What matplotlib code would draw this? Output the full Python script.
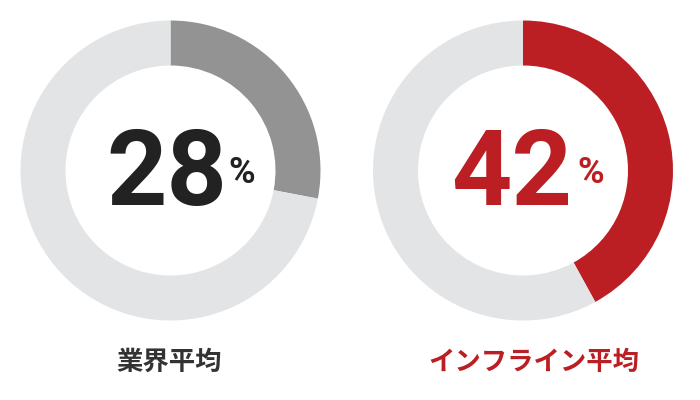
import matplotlib.pyplot as plt

etiquetas = ["業界平均", "インフライン平均"]
percentuais = [28, 42]
cores = ["#939393", "#bb1e23"]
cor_fundo = "#e3e4e6"
cores_texto = ["#222222", "#bb1e23"]
cores_rotulo = ["#333333", "#bb1e23"]

centros = [(170.5, 229.5), (523, 229.5)]
pos_numero = [167, 512]
pos_pct = [228, 577]
pos_rotulo = [169, 534]

fig = plt.figure(figsize=(7, 4), dpi=100)
ax = fig.add_axes([0, 0, 1, 1])

for i in range(len(percentuais)):
    p = percentuais[i]
    ax.pie([p, 100 - p], colors=[cores[i], cor_fundo], center=centros[i],
           radius=150, startangle=90, counterclock=False,
           wedgeprops=dict(width=45, linewidth=0))
    ax.text(pos_numero[i], 195, str(p), ha='center', va='baseline',
            fontsize=76, fontweight='bold', family='Roboto', color=cores_texto[i])
    ax.text(pos_pct[i], 217, "%", ha='left', va='baseline',
            fontsize=26, fontweight='bold', family='Roboto', color=cores_texto[i])
    ax.text(pos_rotulo[i], 38, etiquetas[i], ha='center', va='center',
            fontsize=19, fontweight='bold', family=['Noto Sans CJK JP', 'DejaVu Sans'],
            color=cores_rotulo[i])

ax.set_xlim(0, 700)
ax.set_ylim(0, 400)
ax.set_aspect('equal')
ax.axis('off')

plt.savefig("out.png", dpi=100)
plt.close()
